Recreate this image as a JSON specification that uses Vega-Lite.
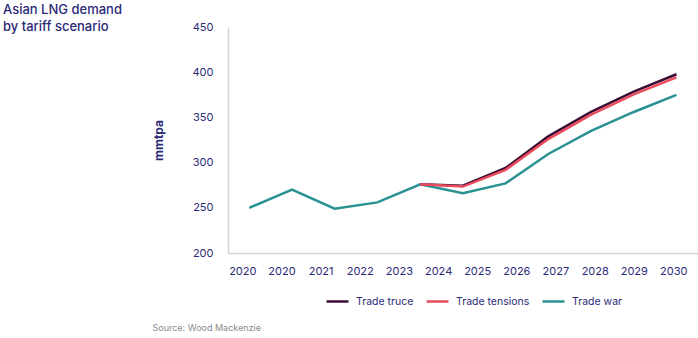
{
  "$schema": "https://vega.github.io/schema/vega-lite/v6.json",
  "width": 470,
  "height": 226,
  "autosize": {"type": "none"},
  "padding": {"left": 228, "top": 27, "right": 0, "bottom": 85},
  "background": "white",
  "title": {
    "text": ["Asian LNG demand", "by tariff scenario"],
    "anchor": "start",
    "frame": "group",
    "dx": -225,
    "dy": 26,
    "offset": 0,
    "fontSize": 13,
    "font": "Inter",
    "fontWeight": 500,
    "color": "#2b2a78",
    "lineHeight": 17,
    "baseline": "bottom"
  },
  "config": {
    "view": {"stroke": null},
    "axis": {
      "grid": false,
      "ticks": false,
      "tickSize": 0,
      "domainColor": "#d4d4d4",
      "domainWidth": 1.5,
      "labelFont": "Inter",
      "labelFontSize": 11,
      "labelColor": "#2b2a78",
      "titleFont": "Inter",
      "titleColor": "#2b2a78"
    }
  },
  "data": {
    "values": [
      {"date": "2020-03-01", "scenario": "Trade war", "value": 250},
      {"date": "2021-03-01", "scenario": "Trade war", "value": 270},
      {"date": "2022-03-01", "scenario": "Trade war", "value": 249},
      {"date": "2023-03-01", "scenario": "Trade war", "value": 256},
      {"date": "2024-03-01", "scenario": "Trade war", "value": 276},
      {"date": "2025-03-01", "scenario": "Trade war", "value": 266},
      {"date": "2026-03-01", "scenario": "Trade war", "value": 277},
      {"date": "2027-03-01", "scenario": "Trade war", "value": 309.5},
      {"date": "2028-03-01", "scenario": "Trade war", "value": 335},
      {"date": "2029-03-01", "scenario": "Trade war", "value": 356},
      {"date": "2030-03-01", "scenario": "Trade war", "value": 375},
      {"date": "2024-03-01", "scenario": "Trade truce", "value": 276},
      {"date": "2025-03-01", "scenario": "Trade truce", "value": 274.5},
      {"date": "2026-03-01", "scenario": "Trade truce", "value": 294},
      {"date": "2027-03-01", "scenario": "Trade truce", "value": 329},
      {"date": "2028-03-01", "scenario": "Trade truce", "value": 356},
      {"date": "2029-03-01", "scenario": "Trade truce", "value": 378.5},
      {"date": "2030-03-01", "scenario": "Trade truce", "value": 397.7},
      {"date": "2024-03-01", "scenario": "Trade tensions", "value": 276},
      {"date": "2025-03-01", "scenario": "Trade tensions", "value": 273.5},
      {"date": "2026-03-01", "scenario": "Trade tensions", "value": 292},
      {"date": "2027-03-01", "scenario": "Trade tensions", "value": 326},
      {"date": "2028-03-01", "scenario": "Trade tensions", "value": 353},
      {"date": "2029-03-01", "scenario": "Trade tensions", "value": 375.5},
      {"date": "2030-03-01", "scenario": "Trade tensions", "value": 394.3}
    ]
  },
  "mark": {"type": "line", "strokeWidth": 2.5, "clip": false},
  "encoding": {
    "x": {
      "field": "date",
      "type": "temporal",
      "scale": {
        "type": "utc",
        "domain": [
          {"year": 2019, "month": 9, "date": 1, "utc": true},
          {"year": 2030, "month": 9, "date": 1, "utc": true}
        ]
      },
      "axis": {
        "values": [
          {"year": 2020, "month": 1, "date": 1, "utc": true},
          {"year": 2020, "month": 12, "date": 1, "utc": true},
          {"year": 2021, "month": 11, "date": 1, "utc": true},
          {"year": 2022, "month": 10, "date": 1, "utc": true},
          {"year": 2023, "month": 9, "date": 1, "utc": true},
          {"year": 2024, "month": 8, "date": 1, "utc": true},
          {"year": 2025, "month": 7, "date": 1, "utc": true},
          {"year": 2026, "month": 6, "date": 1, "utc": true},
          {"year": 2027, "month": 5, "date": 1, "utc": true},
          {"year": 2028, "month": 4, "date": 1, "utc": true},
          {"year": 2029, "month": 3, "date": 1, "utc": true},
          {"year": 2030, "month": 2, "date": 1, "utc": true}
        ],
        "format": "%Y",
        "labelPadding": 12,
        "labelFlush": false,
        "labelOverlap": false,
        "title": "Source: Wood Mackenzie",
        "titleX": -76,
        "titleY": 74,
        "titleAlign": "left",
        "titleBaseline": "middle",
        "titleColor": "#8a8a8a",
        "titleFontSize": 9,
        "titleFontWeight": "normal"
      }
    },
    "y": {
      "field": "value",
      "type": "quantitative",
      "scale": {"domain": [200, 450], "nice": false, "zero": false},
      "axis": {
        "values": [200, 250, 300, 350, 400, 450],
        "labelPadding": 15,
        "title": "mmtpa",
        "titleX": -70,
        "titleY": 113,
        "titleAngle": 270,
        "titleAlign": "center",
        "titleBaseline": "middle",
        "titleFontSize": 12,
        "titleFontWeight": "bold"
      }
    },
    "color": {
      "field": "scenario",
      "type": "nominal",
      "scale": {
        "domain": ["Trade truce", "Trade tensions", "Trade war"],
        "range": ["#3a0c33", "#ea4b5e", "#2a9192"]
      },
      "legend": {
        "orient": "none",
        "legendX": 97,
        "legendY": 262,
        "direction": "horizontal",
        "title": null,
        "padding": 0,
        "symbolType": "stroke",
        "symbolSize": 484,
        "symbolStrokeWidth": 2.5,
        "labelFont": "Inter",
        "labelFontSize": 10.5,
        "labelColor": "#2b2a78",
        "labelOffset": 6,
        "columnPadding": 7
      }
    }
  }
}
